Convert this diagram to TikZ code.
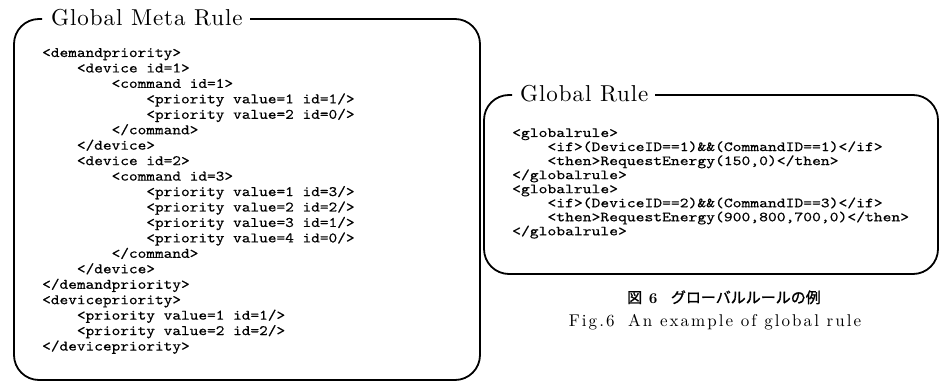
\documentclass[tikz,border=0pt]{standalone}
\usepackage{fontspec}
\setmainfont{lmroman10-regular.otf}[BoldFont=lmroman10-bold.otf]
\newfontfamily\codefontL{lmmono10-regular.otf}[FakeBold=0.45,FakeStretch=1.14]
\newfontfamily\codefontR{lmmono10-regular.otf}[FakeBold=0.45,FakeStretch=1.2]
\newfontfamily\capfont{lmroman10-regular.otf}[LetterSpace=4,BoldFont=lmroman10-bold.otf]
\newfontfamily\figfont{lmroman10-regular.otf}[LetterSpace=12,BoldFont=lmroman10-bold.otf]
\newfontfamily\cjk{Noto Sans CJK JP}[FakeBold=1.2]
\tikzset{
  arcline/.style={line width=1.8pt},
  straightline/.style={line width=2.8pt},
  title/.style={anchor=base west, inner sep=0pt, font=\capfont\fontsize{23}{28}\selectfont},
  codeL/.style={anchor=base west, inner sep=0pt, font=\codefontL\fontsize{14.5}{15}\selectfont},
  codeR/.style={anchor=base west, inner sep=0pt, font=\codefontR\fontsize{14}{15}\selectfont},
  capJ/.style={anchor=base, inner sep=0pt, font=\capfont\fontsize{15}{18}\selectfont},
  capE/.style={anchor=base, inner sep=0pt, font=\figfont\fontsize{17}{20}\selectfont},
}
\newcommand{\ia}{\phantom{xxxx}}
\newcommand{\ib}{\phantom{xxxxxxxx}}
\newcommand{\ic}{\phantom{xxxxxxxxxxxx}}
\begin{document}
\begin{tikzpicture}[x=1pt,y=-1pt]
\useasboundingbox (0,0) rectangle (940,382);
% ---------- left box ----------
\coordinate (L-t0) at (42,19);
\coordinate (L-t1) at (250,19);
\coordinate (L-ne) at (480,19);
\coordinate (L-se) at (480,380);
\coordinate (L-sw) at (14,380);
\coordinate (L-nw) at (14,19);
\draw[arcline, rounded corners=25pt] (L-t1) -- (L-ne) -- (L-se) -- (L-sw) -- (L-nw) -- (L-t0);
\draw[straightline, shorten >=25pt] (L-t1) -- (L-ne);
\draw[straightline, shorten >=25pt, shorten <=25pt] (L-ne) -- (L-se);
\draw[straightline, shorten >=25pt, shorten <=25pt] (L-se) -- (L-sw);
\draw[straightline, shorten >=25pt, shorten <=25pt] (L-sw) -- (L-nw);
\node[title] (tL) at (51,26) {Global Meta Rule};
\foreach \t [count=\i from 0] in {
  {<demandpriority>},
  {\ia<device id=1>},
  {\ib<command id=1>},
  {\ic<priority value=1 id=1/>},
  {\ic<priority value=2 id=0/>},
  {\ib</command>},
  {\ia</device>},
  {\ia<device id=2>},
  {\ib<command id=3>},
  {\ic<priority value=1 id=3/>},
  {\ic<priority value=2 id=2/>},
  {\ic<priority value=3 id=1/>},
  {\ic<priority value=4 id=0/>},
  {\ib</command>},
  {\ia</device>},
  {</demandpriority>},
  {<devicepriority>},
  {\ia<priority value=1 id=1/>},
  {\ia<priority value=2 id=2/>},
  {</devicepriority>}}
  \node[codeL] (m\i) at (42,{57+\i*15.45}) {\t};
% ---------- right box ----------
\coordinate (R-t0) at (512,95);
\coordinate (R-t1) at (655,95);
\coordinate (R-ne) at (938,95);
\coordinate (R-se) at (938,274);
\coordinate (R-sw) at (484,274);
\coordinate (R-nw) at (484,95);
\draw[arcline, rounded corners=25pt] (R-t1) -- (R-ne) -- (R-se) -- (R-sw) -- (R-nw) -- (R-t0);
\draw[straightline, shorten >=25pt] (R-t1) -- (R-ne);
\draw[straightline, shorten >=25pt, shorten <=25pt] (R-ne) -- (R-se);
\draw[straightline, shorten >=25pt, shorten <=25pt] (R-se) -- (R-sw);
\draw[straightline, shorten >=25pt, shorten <=25pt] (R-sw) -- (R-nw);
\node[title] (tR) at (520,102) {Global Rule};
\foreach \t [count=\i from 0] in {
  {<globalrule>},
  {\ia<if>(DeviceID==1)\&\&(CommandID==1)</if>},
  {\ia<then>RequestEnergy(150,0)</then>},
  {</globalrule>},
  {<globalrule>},
  {\ia<if>(DeviceID==2)\&\&(CommandID==3)</if>},
  {\ia<then>RequestEnergy(900,800,700,0)</then>},
  {</globalrule>}}
  \node[codeR] (g\i) at (512,{137+\i*14.05}) {\t};
% ---------- caption ----------
\node[capJ] (capJ) at (724,303) {{\cjk 図}\hspace{0.45em}\textbf{6}\hspace{0.85em}{\cjk グローバルルールの例}};
\node[capE] (capE) at (715,326) {Fig.6\hspace{0.8em}An example of global rule};
\end{tikzpicture}
\end{document}
